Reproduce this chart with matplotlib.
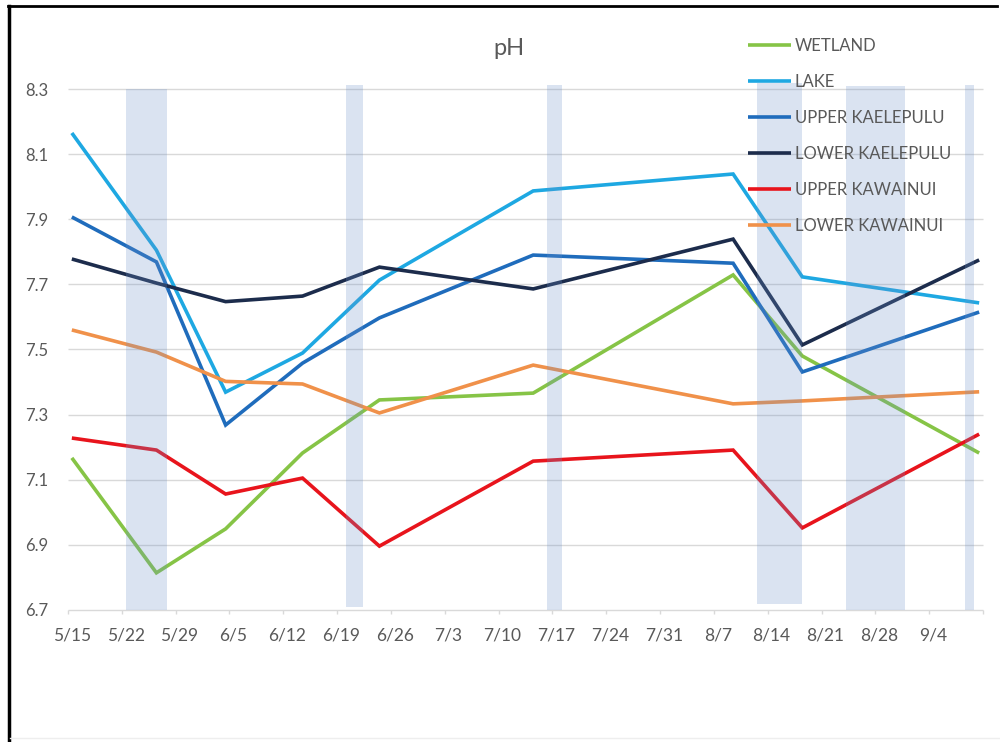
import datetime as dt

import matplotlib.pyplot as plt
import numpy as np
from matplotlib.lines import Line2D

# Sampling dates (month/day) and pH readings per site
sample_dates = ["5/15", "5/26", "6/4", "6/14", "6/24", "7/14", "8/9", "8/18", "9/10"]
wetland = [7.167, 6.814, 6.949, 7.182, 7.345, 7.366, 7.729, 7.480, 7.182]
lake = [8.165, 7.805, 7.369, 7.489, 7.713, 7.987, 8.039, 7.723, 7.643]
upper_kaelepulu = [7.907, 7.769, 7.268, 7.458, 7.597, 7.790, 7.765, 7.431, 7.615]
lower_kaelepulu = [7.778, 7.704, 7.647, 7.664, 7.753, 7.686, 7.839, 7.514, 7.775]
upper_kawainui = [7.228, 7.191, 7.056, 7.105, 6.896, 7.157, 7.191, 6.952, 7.240]
lower_kawainui = [7.560, 7.492, 7.402, 7.394, 7.305, 7.452, 7.333, 7.342, 7.370]

site_names = ["WETLAND", "LAKE", "UPPER KAELEPULU", "LOWER KAELEPULU",
              "UPPER KAWAINUI", "LOWER KAWAINUI"]

week_labels = ["5/15", "5/22", "5/29", "6/5", "6/12", "6/19", "6/26", "7/3",
               "7/10", "7/17", "7/24", "7/31", "8/7", "8/14", "8/21", "8/28", "9/4"]

# Shaded event periods (days after 5/15) and their vertical extent in pH units
band_start = [7.0, 35.7, 61.8, 89.1, 100.7, 116.2]
band_end = [12.35, 37.9, 63.8, 94.9, 108.4, 117.3]
band_low = [6.7, 6.709, 6.7, 6.718, 6.7, 6.7]
band_high = [8.3, 8.312, 8.312, 8.318, 8.31, 8.312]

plt.rcParams["font.family"] = ["Lato", "DejaVu Sans"]
TEXT = "#595959"
GRID = "#d9d9d9"


def to_day(md, origin="5/15"):
    m, d = map(int, md.split("/"))
    m0, d0 = map(int, origin.split("/"))
    return (dt.date(2001, m, d) - dt.date(2001, m0, d0)).days


x = np.array([to_day(s) for s in sample_dates])
week_pos = np.array([to_day(s) for s in week_labels])

fig = plt.figure(figsize=(10, 7.42), dpi=100)
ax = fig.add_axes([0.068, 0.178, 0.915, 0.702])

ax.set_xlim(-0.5, 118.5)
ax.set_ylim(6.7, 8.3)

yticks = np.round(np.arange(6.7, 8.31, 0.2), 1)
ax.hlines(yticks, -0.5, 118.5, colors=GRID, linewidth=1.0, zorder=0, clip_on=False)

series = [wetland, lake, upper_kaelepulu, lower_kaelepulu, upper_kawainui, lower_kawainui]
colors = ["#86c446", "#1ea8e2", "#1f6cbc", "#1c2c4c", "#e8141c", "#f0914a"]
for vals, name, col in zip(series, site_names, colors):
    ax.plot(x, vals, color=col, linewidth=2.6, label=name, zorder=2,
            solid_joinstyle="miter", solid_capstyle="butt")

# Translucent event bands laid over the lines
starts = np.array(band_start)
ends = np.array(band_end)
lows = np.array(band_low)
highs = np.array(band_high)
ax.bar((starts + ends) / 2, highs - lows, bottom=lows, width=ends - starts,
       color=(108 / 255, 145 / 255, 200 / 255), alpha=0.25, linewidth=0,
       zorder=3, clip_on=False)

for side in ["top", "right", "left", "bottom"]:
    ax.spines[side].set_visible(False)

ax.set_yticks(yticks)
ax.set_yticklabels([f"{v:.1f}" for v in yticks])
ax.tick_params(axis="y", length=0, pad=14, labelsize=12, labelcolor=TEXT)

ax.set_xticks(week_pos)
ax.set_xticklabels(week_labels)
ax.set_xticks(np.arange(-0.5, 119, 7), minor=True)
ax.tick_params(axis="x", which="major", length=0, pad=13, labelsize=12.5, labelcolor=TEXT)
ax.tick_params(axis="x", which="minor", length=3, width=1, color=GRID, direction="out")

fig.text(0.509, 0.935, "pH", ha="center", va="center", fontsize=17, color=TEXT)

leg = ax.legend(loc="upper left", bbox_to_anchor=(0.748, 0.949),
                bbox_transform=fig.transFigure, frameon=False, fontsize=12,
                handlelength=2.55, handletextpad=0.25, labelspacing=1.2,
                borderpad=0, borderaxespad=0)
for t in leg.get_texts():
    t.set_color(TEXT)
leg.set_zorder(5)

# Page border
fig.add_artist(Line2D([0.009, 0.009], [0.0, 1 - 6 / 742], color="black",
                      linewidth=2.5, transform=fig.transFigure))
fig.add_artist(Line2D([0.008, 0.997], [1 - 6 / 742, 1 - 6 / 742], color="black",
                      linewidth=2.0, transform=fig.transFigure))
fig.add_artist(Line2D([0.01, 1.0], [1 - 738 / 742, 1 - 738 / 742], color="#eeeeee",
                      linewidth=1.0, transform=fig.transFigure))

fig.savefig("out.png", dpi=100, facecolor="white")
